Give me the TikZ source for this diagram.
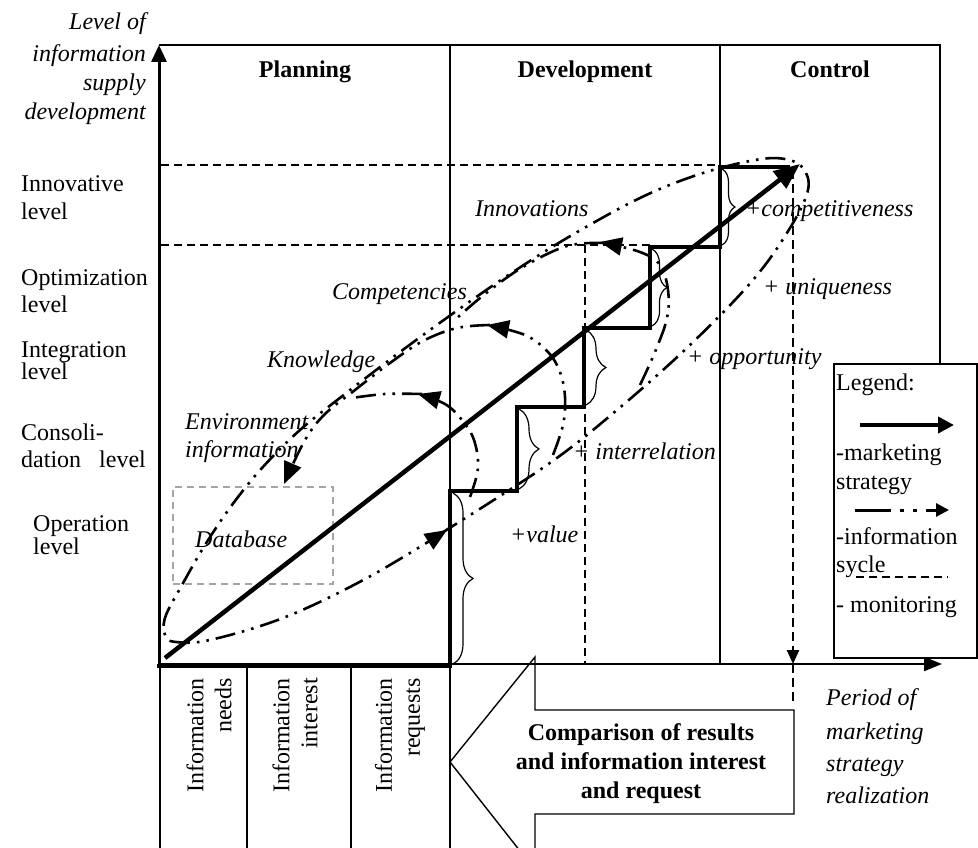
\documentclass[tikz,border=0pt]{standalone}
\usepackage{fontspec}
\setmainfont{Liberation Serif}
\usetikzlibrary{arrows.meta,decorations.pathreplacing}

\begin{document}
\begin{tikzpicture}[x=1pt,y=-1pt,
  txt/.style={font=\fontsize{24}{28}\selectfont, inner sep=0pt},
  itx/.style={inner sep=0pt, font=\fontsize{24}{28}\selectfont\itshape},
  bfx/.style={inner sep=0pt, font=\fontsize{24}{28}\selectfont\bfseries},
  frame/.style={line width=1.4pt},
  stairline/.style={line width=4.5pt, line join=miter},
  monitor/.style={line width=1.5pt, dash pattern=on 8pt off 5pt},
  monitorthick/.style={line width=2.4pt, dash pattern=on 9pt off 5pt},
  infocyc/.style={line width=2.6pt, dash pattern=on 20pt off 7pt on 2.6pt off 7pt on 2.6pt off 7pt},
  cyctip/.style={-{Triangle[length=22pt,width=18pt]}},
  bracedec/.style={line width=1.2pt, decorate, decoration={brace, amplitude=#1}},
]
\useasboundingbox (0,0) rectangle (978,848);
\begin{scope}
\clip (0,0) rectangle (978,848);

% ---------- frame and columns ----------
\coordinate (o) at (159,666);
\coordinate (ytop) at (159,45);
\coordinate (xend) at (942,664);
\draw[frame] (ytop) -- (940,45) -- (940,364);
\draw[frame] (450,45) -- (450,848);
\draw[frame] (720,45) -- (720,664);
\draw[frame] (160,666) -- (160,848);
\draw[frame] (247,666) -- (247,848);
\draw[frame] (351,666) -- (351,848);

% axes
\draw[line width=2.2pt, -{Triangle[length=18pt,width=14pt]}] (159,664) -- (xend);
\draw[line width=4.5pt] (157,666) -- (452,666);
\draw[line width=3pt, -{Triangle[length=17pt,width=15pt]}] (o) -- (ytop);

% ---------- monitoring lines ----------
\draw[monitor] (161,165) -- (720,165);
\draw[monitor] (161,245) -- (650,245);
\draw[monitor] (585,245) -- (585,664);
\coordinate (mtop) at (793,170);
\coordinate (mhit) at (793,664);
\coordinate (mbot) at (793,703);
\draw[monitorthick, -{Triangle[length=14pt,width=12pt]}] (mtop) -- (mhit);
\draw[monitorthick] (mhit) -- (mbot);

% database box
\node[draw=gray!70, line width=1.5pt, dash pattern=on 7pt off 5pt, minimum width=160pt, minimum height=97pt, inner sep=0pt] (dbbox) at (253,535.5) {};

% ---------- staircase ----------
\draw[stairline] (450,668) -- (450,491) -- (517,491) -- (517,407) -- (584,407) -- (584,328)
  -- (650,328) -- (650,247) -- (720,247) -- (720,167) -- (790,167);

% braces on the risers
\draw[bracedec=20pt] (453,493) -- (453,664);
\draw[bracedec=20pt] (519,409) -- (519,489);
\draw[bracedec=20pt] (586,330) -- (586,405);
\draw[bracedec=15pt] (652,249) -- (652,326);
\draw[bracedec=13pt] (722,169) -- (722,245);

% ---------- marketing strategy ----------
\coordinate (ds) at (165,658);
\coordinate (de) at (800,164);
\draw[line width=4.5pt, -{Triangle[length=26pt,width=21pt]}] (ds) -- (de);

% ---------- information cycle ----------
% outer loop
\draw[infocyc, cyctip] plot[smooth, tension=0.6] coordinates {(170,641) (205,641) (283,618) (367,578) (447,530)};
\draw[infocyc] plot[smooth, tension=0.6] coordinates {(440,534) (547,465) (617,410) (690,345) (753,280) (790,228) (808,190) (803,168) (785,159) (755,160) (700,174) (640,198) (567,238) (507,276) (455,312) (400,352) (345,394) (300,430) (262,468) (232,505) (205,545) (182,585) (166,615) (164,632) (170,641)};
% inner loops
\draw[infocyc, cyctip] plot[smooth, tension=0.6] coordinates {(470,497) (478,468) (474,440) (462,420) (445,404) (418,394)};
\draw[infocyc] plot[smooth, tension=0.6] coordinates {(422,394) (385,394) (352,398)};
\draw[infocyc, cyctip] plot[smooth, tension=0.6] coordinates {(553,455) (563,425) (565,397) (560,372) (548,352) (525,335) (487,325)};
\draw[infocyc, cyctip] plot[smooth, tension=0.6] coordinates {(490,325) (457,328) (423,341) (390,363) (355,390) (325,414) (305,440) (284,484)};
\draw[infocyc, cyctip] plot[smooth, tension=0.6] coordinates {(640,385) (655,352) (667,318) (668,290) (660,265) (640,252) (600,242)};
\draw[infocyc] plot[smooth, tension=0.6] coordinates {(604,243) (567,246) (523,267) (485,294) (457,318)};

% ---------- comparison arrow ----------
\draw[frame] (450,762) -- (535,657) -- (535,710) -- (794,710) -- (794,814) -- (535,814) -- (535,870) -- cycle;
\end{scope}

% ---------- texts ----------
\node[itx, anchor=base east] (ya1) at (146,30) {Level of};
\node[itx, anchor=base east] (ya2) at (146,62) {information};
\node[itx, anchor=base east] (ya3) at (146,91) {supply};
\node[itx, anchor=base east] (ya4) at (146,120) {development};

\node[bfx, anchor=base] (hplan) at (305,78) {Planning};
\node[bfx, anchor=base] (hdev) at (585,78) {Development};
\node[bfx, anchor=base] (hctl) at (830,78) {Control};

\node[txt, anchor=base west] (l1a) at (21,192) {Innovative};
\node[txt, anchor=base west] (l1b) at (21,219) {level};
\node[txt, anchor=base west] (l2a) at (21,285) {Optimization};
\node[txt, anchor=base west] (l2b) at (21,312) {level};
\node[txt, anchor=base west] (l3a) at (21,357) {Integration};
\node[txt, anchor=base west] (l3b) at (21,379) {level};
\node[txt, anchor=base west] (l4a) at (21,440) {Consoli-};
\node[txt, anchor=base west] (l4b) at (21,467) {dation\hspace{0.5em} level};
\node[txt, anchor=base west] (l5a) at (33,531) {Operation};
\node[txt, anchor=base west] (l5b) at (33,554) {level};

\node[itx, anchor=base west] (tinn) at (475,217) {Innovations};
\node[itx, anchor=base west] (tcomp) at (332,299) {Competencies};
\node[itx, anchor=base west] (tknow) at (267,367) {Knowledge};
\node[itx, anchor=base west] (tenv1) at (185,429) {Environment};
\node[itx, anchor=base west] (tenv2) at (185,457) {information};
\node[itx, anchor=base west] (tdb) at (195,547) {Database};

\node[itx, anchor=base west] (pcomp) at (745,217) {+competitiveness};
\node[itx, anchor=base west] (puniq) at (763,294) {+ uniqueness};
\node[itx, anchor=base west] (popp) at (687,364) {+ opportunity};
\node[itx, anchor=base west] (pint) at (573,459) {+ interrelation};
\node[itx, anchor=base west] (pval) at (510,542) {+value};

% bottom table
\node[txt, rotate=90, anchor=east, align=right] (bneeds) at (209,678) {Information\\needs};
\node[txt, rotate=90, anchor=east, align=right] (binter) at (295,678) {Information\\interest};
\node[txt, rotate=90, anchor=east, align=right] (breq) at (400,678) {Information\\requests};

\node[bfx, anchor=base] (c1) at (641,740) {Comparison of results};
\node[bfx, anchor=base] (c2) at (641,769) {and information interest};
\node[bfx, anchor=base] (c3) at (641,798) {and request};

\node[itx, anchor=base west] (xa1) at (826,705) {Period of};
\node[itx, anchor=base west] (xa2) at (826,739) {marketing};
\node[itx, anchor=base west] (xa3) at (826,771) {strategy};
\node[itx, anchor=base west] (xa4) at (826,803) {realization};

% ---------- legend ----------
\draw[frame, fill=white] (834,364) rectangle (977,658);
\node[txt, anchor=base west] (lg0) at (836,390) {Legend:};
\coordinate (lga) at (860,425);
\coordinate (lgb) at (954,425);
\draw[line width=4.5pt, -{Triangle[length=16pt,width=16pt]}] (lga) -- (lgb);
\node[txt, anchor=base west] (lg1) at (836,460) {-marketing};
\node[txt, anchor=base west] (lg2) at (836,489) {strategy};
\coordinate (lgc) at (855,510);
\coordinate (lgd) at (949,510);
\draw[line width=3pt, dash pattern=on 36pt off 9pt on 4pt off 9pt on 4pt off 9pt, -{Triangle[length=13pt,width=13pt]}] (lgc) -- (lgd);
\node[txt, anchor=base west] (lg3) at (836,544) {-information};
\node[txt, anchor=base west] (lg4) at (836,572) {sycle};
\coordinate (lge) at (856,577);
\coordinate (lgf) at (948,577);
\draw[monitor] (lge) -- (lgf);
\node[txt, anchor=base west] (lg5) at (836,612) {- monitoring};

\end{tikzpicture}
\end{document}
